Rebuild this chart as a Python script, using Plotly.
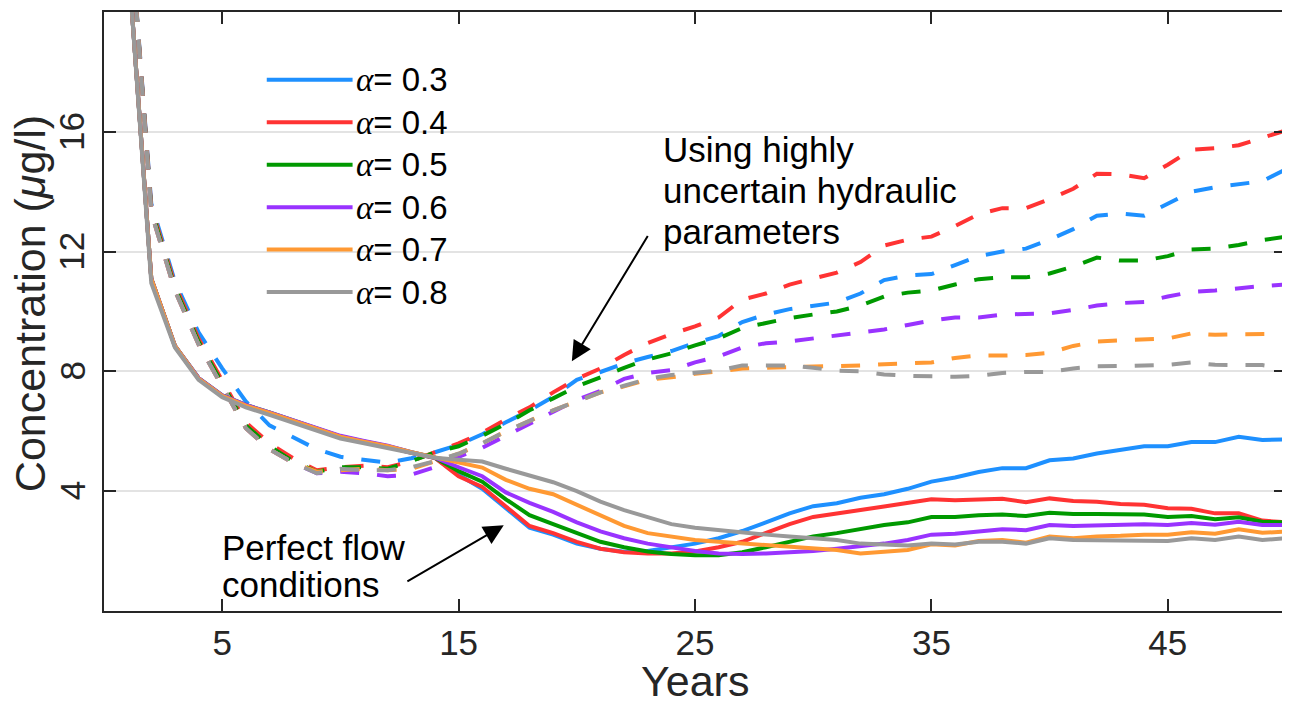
import plotly.graph_objects as go

years = list(range(1, 51))

alphas = ["0.3", "0.4", "0.5", "0.6", "0.7", "0.8"]
colors = ["#1E90FF", "#FF3333", "#009900", "#9933FF", "#FF9933", "#999999"]

# perfect flow conditions (solid)
solid_03 = [22, 11.1, 8.85, 7.76, 7.18, 6.85, 6.6, 6.33, 6.07, 5.8, 5.63, 5.48, 5.28, 5.11,
            4.55, 4.08, 3.43, 2.78, 2.55, 2.25, 2.08, 1.98, 2.0, 2.13, 2.25, 2.43, 2.67, 2.96, 3.26, 3.5,
            3.6, 3.78, 3.9, 4.08, 4.32, 4.46, 4.64, 4.77, 4.77, 5.03, 5.09, 5.26, 5.38, 5.5, 5.5,
            5.64, 5.64, 5.82, 5.71, 5.73]
solid_04 = [22, 11.1, 8.85, 7.76, 7.18, 6.85, 6.6, 6.33, 6.07, 5.8, 5.63, 5.48, 5.28, 5.11,
            4.5, 4.14, 3.49, 2.84, 2.6, 2.31, 2.08, 1.96, 1.92, 1.92, 1.99, 2.13, 2.31, 2.6, 2.9, 3.14,
            3.27, 3.37, 3.49, 3.61, 3.73, 3.7, 3.73, 3.75, 3.63, 3.76, 3.67, 3.65, 3.57, 3.55, 3.43,
            3.41, 3.26, 3.26, 3.02, 2.96]
solid_05 = [22, 11.1, 8.85, 7.78, 7.2, 6.88, 6.63, 6.36, 6.1, 5.83, 5.66, 5.5, 5.3, 5.12,
            4.67, 4.32, 3.73, 3.2, 2.9, 2.6, 2.31, 2.13, 1.99, 1.9, 1.86, 1.86, 1.96, 2.13, 2.31, 2.49,
            2.6, 2.75, 2.87, 2.96, 3.14, 3.14, 3.2, 3.22, 3.17, 3.28, 3.24, 3.24, 3.22, 3.22, 3.14,
            3.17, 3.06, 3.13, 2.98, 2.96]
solid_06 = [22, 11.1, 8.85, 7.78, 7.2, 6.88, 6.63, 6.38, 6.12, 5.85, 5.68, 5.52, 5.3, 5.12,
            4.8, 4.5, 3.96, 3.61, 3.31, 2.96, 2.66, 2.43, 2.25, 2.13, 2.0, 1.92, 1.9, 1.92, 1.96, 2.0,
            2.08, 2.16, 2.25, 2.37, 2.55, 2.58, 2.67, 2.73, 2.7, 2.87, 2.84, 2.87, 2.88, 2.9, 2.87,
            2.94, 2.88, 2.98, 2.87, 2.87]
solid_07 = [22, 11.1, 8.85, 7.76, 7.18, 6.86, 6.61, 6.35, 6.08, 5.82, 5.65, 5.5, 5.3, 5.12,
            4.97, 4.79, 4.38, 4.08, 3.9, 3.55, 3.2, 2.84, 2.6, 2.47, 2.37, 2.31, 2.25, 2.19, 2.13, 2.08,
            2.04, 1.92, 1.99, 2.04, 2.23, 2.19, 2.34, 2.37, 2.28, 2.49, 2.43, 2.49, 2.51, 2.55, 2.55,
            2.63, 2.58, 2.73, 2.61, 2.65]
solid_08 = [22, 10.95, 8.8, 7.72, 7.14, 6.8, 6.55, 6.28, 6.02, 5.76, 5.6, 5.45, 5.28, 5.12,
            5.05, 4.99, 4.75, 4.52, 4.3, 4.0, 3.65, 3.37, 3.14, 2.9, 2.78, 2.7, 2.6, 2.55, 2.49, 2.43,
            2.37, 2.25, 2.22, 2.19, 2.25, 2.22, 2.31, 2.31, 2.25, 2.43, 2.37, 2.37, 2.37, 2.37, 2.34,
            2.43, 2.37, 2.49, 2.37, 2.43]

# highly uncertain hydraulic parameters (dashed)
dashed_03 = [24, 13.6, 11.0, 9.3, 8.1, 7.0, 6.2, 5.8, 5.4, 5.15, 5.05, 4.95, 5.1, 5.3,
             5.55, 5.9, 6.3, 6.7, 7.15, 7.72, 7.98, 8.27, 8.48, 8.68, 8.95, 9.18, 9.65, 9.9, 10.08, 10.2,
             10.3, 10.6, 11.05, 11.2, 11.25, 11.55, 11.85, 12.0, 12.1, 12.4, 12.75, 13.2, 13.27, 13.2,
             13.6, 14.0, 14.15, 14.25, 14.35, 14.75]
dashed_04 = [24, 13.5, 10.9, 9.1, 7.7, 6.3, 5.6, 5.1, 4.7, 4.8, 4.85, 4.8, 5.0, 5.3,
             5.6, 5.95, 6.4, 6.8, 7.3, 7.75, 8.1, 8.55, 8.95, 9.25, 9.5, 9.8, 10.4, 10.6, 10.9, 11.1,
             11.3, 11.65, 12.2, 12.4, 12.5, 12.85, 13.25, 13.45, 13.45, 13.75, 14.1, 14.6, 14.58, 14.45,
             14.9, 15.4, 15.45, 15.55, 15.8, 16.05]
dashed_05 = [24, 13.4, 10.8, 9.0, 7.6, 6.2, 5.5, 5.0, 4.65, 4.8, 4.8, 4.75, 5.0, 5.3,
             5.5, 5.85, 6.25, 6.7, 7.1, 7.5, 7.8, 8.12, 8.4, 8.6, 8.87, 9.1, 9.45, 9.63, 9.78, 9.9,
             10.0, 10.2, 10.5, 10.63, 10.7, 10.9, 11.08, 11.14, 11.14, 11.27, 11.5, 11.8, 11.7, 11.7,
             11.85, 12.07, 12.1, 12.22, 12.38, 12.5]
dashed_06 = [24, 13.3, 10.7, 8.9, 7.5, 6.1, 5.4, 4.95, 4.6, 4.65, 4.6, 4.5, 4.55, 4.8,
             5.15, 5.45, 5.85, 6.25, 6.65, 7.05, 7.35, 7.75, 7.95, 8.04, 8.3, 8.5, 8.8, 8.94, 9.0, 9.1,
             9.2, 9.3, 9.4, 9.55, 9.7, 9.8, 9.8, 9.9, 9.92, 9.94, 10.05, 10.2, 10.28, 10.32,
             10.5, 10.65, 10.7, 10.78, 10.85, 10.9]
dashed_07 = [24, 13.3, 10.7, 8.9, 7.5, 6.1, 5.4, 4.95, 4.65, 4.7, 4.75, 4.7, 4.75, 5.0,
             5.25, 5.6, 6.0, 6.35, 6.7, 7.0, 7.3, 7.5, 7.72, 7.8, 7.92, 8.0, 8.1, 8.12, 8.14, 8.15,
             8.15, 8.2, 8.24, 8.27, 8.3, 8.45, 8.53, 8.53, 8.55, 8.62, 8.85, 9.0, 9.03, 9.07,
             9.1, 9.27, 9.22, 9.24, 9.25, 9.25]
dashed_08 = [24, 13.3, 10.7, 8.9, 7.5, 6.1, 5.4, 4.95, 4.6, 4.75, 4.7, 4.7, 4.8, 5.0,
             5.25, 5.6, 6.0, 6.35, 6.7, 7.0, 7.3, 7.52, 7.75, 7.88, 7.97, 8.03, 8.2, 8.2, 8.2, 8.12,
             8.02, 8.0, 7.9, 7.85, 7.82, 7.82, 7.85, 7.95, 7.98, 7.98, 8.1, 8.17, 8.18, 8.2,
             8.22, 8.3, 8.22, 8.21, 8.21, 8.1]

solid = [solid_03, solid_04, solid_05, solid_06, solid_07, solid_08]
dashed = [dashed_03, dashed_04, dashed_05, dashed_06, dashed_07, dashed_08]

x_ticks = [5, 15, 25, 35, 45]
y_ticks = [4, 8, 12, 16]

upper_note = ["Using highly", "uncertain hydraulic", "parameters"]
lower_note = ["Perfect flow", "conditions"]

FONT = "Liberation Sans, Arial, Helvetica, sans-serif"
SERIF = "Liberation Serif, Times New Roman, serif"
AXIS = "#262626"

fig = go.Figure()

for a, c, ys in zip(alphas, colors, dashed):
    fig.add_trace(go.Scatter(x=years, y=ys, mode="lines", showlegend=False,
                             line=dict(color=c, width=4, dash="19px,18px")))
for a, c, ys in zip(alphas, colors, solid):
    fig.add_trace(go.Scatter(x=years, y=ys, mode="lines", name=f"α= {a}", showlegend=False,
                             line=dict(color=c, width=4)))

# legend drawn by hand so the line samples are long like the original
shapes = [dict(type="rect", xref="paper", yref="paper", x0=0.125, x1=0.31, y0=0.49, y1=0.925,
               fillcolor="white", line=dict(width=0), layer="between")]
annotations = []
for i, (a, c) in enumerate(zip(alphas, colors)):
    yp = (601 - (68 + i * 42.6)) / 601
    shapes.append(dict(type="line", xref="paper", yref="paper", x0=0.1377, x1=0.2103,
                       y0=yp, y1=yp, line=dict(color=c, width=4)))
    annotations.append(dict(xref="paper", yref="paper", x=0.2118, y=yp, xanchor="left",
                            yanchor="middle", showarrow=False,
                            text=f"<span style='font-family:{SERIF}'><i>α</i></span>= {a}",
                            font=dict(size=33, color="black", family=FONT)))

for i, line in enumerate(upper_note):
    annotations.append(dict(x=23.55, y=15.4 - i * 1.36, xref="x", yref="y", xanchor="left",
                            yanchor="middle", showarrow=False, text=line,
                            font=dict(size=35, color="black", family=FONT)))
for i, line in enumerate(lower_note):
    annotations.append(dict(x=4.9, y=2.12 - i * 1.22, xref="x", yref="y", xanchor="left",
                            yanchor="middle", showarrow=False, text=line,
                            font=dict(size=35, color="black", family=FONT)))

annotations += [
    dict(x=19.79, y=8.34, ax=23.04, ay=12.57, xref="x", yref="y", axref="x", ayref="y",
         text="", showarrow=True, arrowhead=2, arrowsize=2, arrowwidth=2, arrowcolor="black"),
    dict(x=16.91, y=2.86, ax=12.77, ay=0.96, xref="x", yref="y", axref="x", ayref="y",
         text="", showarrow=True, arrowhead=2, arrowsize=2, arrowwidth=2, arrowcolor="black"),
]

# y tick labels are turned on their side, as in the original
for v in y_ticks:
    annotations.append(dict(x=-0.027, y=v, xref="paper", yref="y", text=str(v), textangle=-90,
                            showarrow=False, xanchor="center", yanchor="middle",
                            font=dict(size=35, color=AXIS, family=FONT)))
# axis titles
annotations.append(dict(x=0.5, y=-0.117, xref="paper", yref="paper", text="Years",
                        showarrow=False, xanchor="center", yanchor="middle",
                        font=dict(size=43, color=AXIS, family=FONT)))
annotations.append(dict(x=-0.0625, y=0.5125, xref="paper", yref="paper",
                        text="Concentration (<i>μ</i>g/l)", textangle=-90,
                        showarrow=False, xanchor="center", yanchor="middle",
                        font=dict(size=43, color=AXIS, family=FONT)))

# the page body adds an 8px margin, so the figure is 8px smaller than the window
fig.update_layout(
    width=1282, height=693,
    margin=dict(l=96, r=2, t=2, b=90),
    paper_bgcolor="white", plot_bgcolor="white",
    font=dict(family=FONT, color=AXIS),
    shapes=shapes, annotations=annotations,
)
fig.update_xaxes(
    range=[0, 50], tickvals=x_ticks, showgrid=False, zeroline=False,
    showline=True, mirror="ticks", linecolor=AXIS, linewidth=2,
    ticks="inside", ticklen=12, tickwidth=2, tickcolor=AXIS,
    tickfont=dict(size=35, family=FONT, color=AXIS),
)
fig.update_yaxes(
    range=[0, 20], tickvals=y_ticks, showgrid=True, gridcolor="#e3e3e3", gridwidth=2,
    zeroline=False, showline=True, mirror="ticks", linecolor=AXIS, linewidth=2,
    ticks="inside", ticklen=12, tickwidth=2, tickcolor=AXIS, showticklabels=False,
)

fig.write_html("out.html")
